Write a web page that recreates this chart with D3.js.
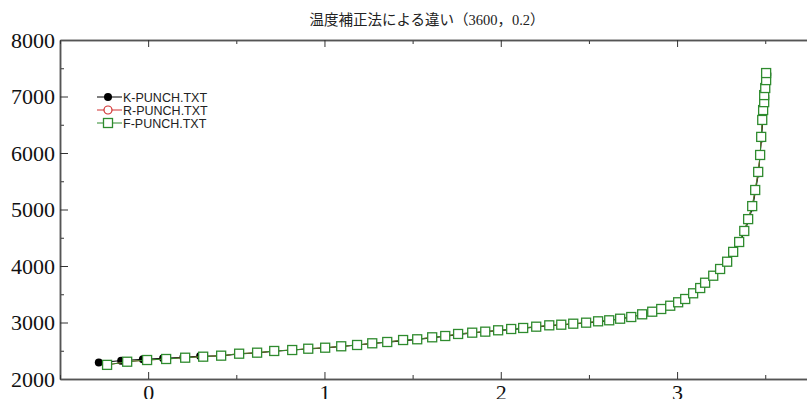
<!DOCTYPE html>
<html>
<head>
<meta charset="utf-8">
<script src="https://cdn.jsdelivr.net/npm/d3@7"></script>
<style>
  body { margin: 0; background: #fff; }
  svg { display: block; }
</style>
</head>
<body>
<svg width="807" height="399"></svg>
<script>
// chart data
const title = '温度補正法による違い（3600，0.2）';
const seriesNames = ['K-PUNCH.TXT', 'R-PUNCH.TXT', 'F-PUNCH.TXT'];
const xTicks = [0, 1, 2, 3, 4];
const yTicks = [2000, 3000, 4000, 5000, 6000, 7000, 8000];

const kX = [-0.280, -0.153, -0.030, 0.085, 0.200, 0.295, 0.414, 0.516, 0.618, 0.715, 0.908, 1.004, 1.095,
  1.271, 1.356, 1.526, 1.685, 1.838, 1.985, 2.062, 2.201, 2.343, 2.484, 2.556, 2.677, 2.802, 2.914, 3.049,
  3.162, 3.247, 3.321, 3.384, 3.429, 3.462, 3.479, 3.490, 3.500, 3.508, 3.512];
const kY = [2290, 2325, 2348, 2366, 2384, 2405, 2408, 2443, 2461, 2491, 2531, 2549, 2574,
  2627, 2650, 2698, 2756, 2815, 2857, 2872, 2921, 2956, 2992, 3008, 3062, 3140, 3226, 3405,
  3690, 3930, 4230, 4600, 5040, 5640, 6260, 6740, 7010, 7270, 7400];

const fX = [-0.233, -0.119, -0.006, 0.102, 0.210, 0.312, 0.414, 0.516, 0.618, 0.715, 0.817, 0.908, 1.004,
  1.095, 1.185, 1.271, 1.356, 1.446, 1.526, 1.611, 1.685, 1.758, 1.838, 1.912, 1.985, 2.059, 2.127, 2.201,
  2.275, 2.343, 2.411, 2.484, 2.552, 2.615, 2.677, 2.740, 2.802, 2.859, 2.910, 2.961, 3.006, 3.046, 3.091,
  3.131, 3.159, 3.205, 3.244, 3.284, 3.318, 3.352, 3.381, 3.403, 3.426, 3.443, 3.460, 3.471, 3.477, 3.483,
  3.488, 3.494, 3.494, 3.500, 3.505, 3.505];
const fY = [2250, 2306, 2336, 2354, 2377, 2395, 2413, 2448, 2466, 2496, 2513, 2536, 2554,
  2579, 2602, 2632, 2655, 2690, 2703, 2738, 2761, 2797, 2820, 2838, 2862, 2885, 2903, 2926,
  2950, 2961, 2979, 2997, 3021, 3039, 3067, 3097, 3145, 3191, 3239, 3297, 3358, 3416, 3517,
  3610, 3704, 3828, 3947, 4076, 4250, 4425, 4620, 4830, 5060, 5345, 5665, 5965, 6285, 6585,
  6760, 6900, 7025, 7150, 7290, 7415];

// R lies exactly under F in the picture
const rX = fX.slice();
const rY = fY.slice();

const svg = d3.select('svg');
const x = d3.scaleLinear().domain([-0.5, 4]).range([60, 853.4]);
const y = d3.scaleLinear().domain([2000, 8000]).range([379, 40]);
const axisColor = '#555';

// title
svg.append('text')
  .attr('x', 427).attr('y', 25)
  .attr('text-anchor', 'middle')
  .style('font-family', '"Liberation Serif", "Noto Sans CJK JP", serif')
  .style('font-size', '14.5px')
  .attr('fill', '#222')
  .text(title);

// axes
let styleAxis = (g) => {
  g.select('.domain').attr('stroke', axisColor).attr('stroke-width', 1.5);
  g.selectAll('.tick line').attr('stroke', '#333').attr('stroke-width', 1);
  g.selectAll('.tick text')
    .style('font-family', '"Liberation Serif", "Times New Roman", serif')
    .style('font-size', '22px')
    .attr('fill', '#111');
};

svg.append('g').attr('transform', 'translate(60,0)')
  .call(d3.axisLeft(y).tickValues(d3.range(2500, 8000, 1000)).tickSizeInner(-4).tickSizeOuter(0).tickFormat(''))
  .call(styleAxis);
svg.append('g').attr('transform', 'translate(60,0)')
  .call(d3.axisLeft(y).tickValues(yTicks).tickSizeInner(-8).tickSizeOuter(0).tickPadding(5).tickFormat(d3.format('d')))
  .call(styleAxis);

svg.append('g').attr('transform', 'translate(0,379)')
  .call(d3.axisBottom(x).tickValues(d3.range(-0.5, 4, 1)).tickSizeInner(-4).tickSizeOuter(0).tickFormat(''))
  .call(styleAxis);
svg.append('g').attr('transform', 'translate(0,379)')
  .call(d3.axisBottom(x).tickValues(xTicks).tickSizeInner(-7).tickSizeOuter(0).tickPadding(5).tickFormat(d3.format('d')))
  .call(styleAxis);

svg.append('g').attr('transform', 'translate(0,40)')
  .call(d3.axisTop(x).tickValues(d3.range(-0.5, 4, 1)).tickSizeInner(-4).tickSizeOuter(0).tickFormat(''))
  .call(styleAxis);
svg.append('g').attr('transform', 'translate(0,40)')
  .call(d3.axisTop(x).tickValues(xTicks).tickSizeInner(-7).tickSizeOuter(0).tickFormat(''))
  .call(styleAxis);

// series
const series = [
  { name: seriesNames[0], xs: kX, ys: kY, color: '#000', shape: 'dot' },
  { name: seriesNames[1], xs: rX, ys: rY, color: '#d03030', shape: 'circle' },
  { name: seriesNames[2], xs: fX, ys: fY, color: '#2e8b2e', shape: 'square' }
];

const line = d3.line().x(d => x(d[0])).y(d => y(d[1]));

let drawMarker = (g, s, cx, cy) => {
  if (s.shape == 'square') {
    g.append('rect')
      .attr('x', cx - 4.5).attr('y', cy - 4.5)
      .attr('width', 9).attr('height', 9)
      .attr('fill', '#fff').attr('stroke', s.color).attr('stroke-width', 1.3);
  } else if (s.shape == 'circle') {
    g.append('circle').attr('cx', cx).attr('cy', cy).attr('r', 4)
      .attr('fill', '#fff').attr('stroke', s.color).attr('stroke-width', 1.2);
  } else {
    g.append('circle').attr('cx', cx).attr('cy', cy).attr('r', 4)
      .attr('fill', s.color);
  }
};

series.forEach(s => {
  const pts = s.xs.map((v, i) => [v, s.ys[i]]);
  const g = svg.append('g');
  g.append('path').datum(pts)
    .attr('d', line)
    .attr('fill', 'none')
    .attr('stroke', s.color)
    .attr('stroke-width', 1);
  pts.forEach(p => drawMarker(g, s, x(p[0]), y(p[1])));
});

// legend
series.forEach((s, i) => {
  const ly = 97 + i * 13;
  const g = svg.append('g');
  g.append('line').attr('x1', 97).attr('x2', 122).attr('y1', ly).attr('y2', ly)
    .attr('stroke', s.color).attr('stroke-width', 1);
  drawMarker(g, s, 108, ly);
  g.append('text')
    .attr('x', 123).attr('y', ly + 4.5)
    .style('font-family', '"Liberation Sans", Arial, sans-serif')
    .style('font-size', '12.5px')
    .attr('fill', '#222')
    .text(s.name);
});
</script>
</body>
</html>
